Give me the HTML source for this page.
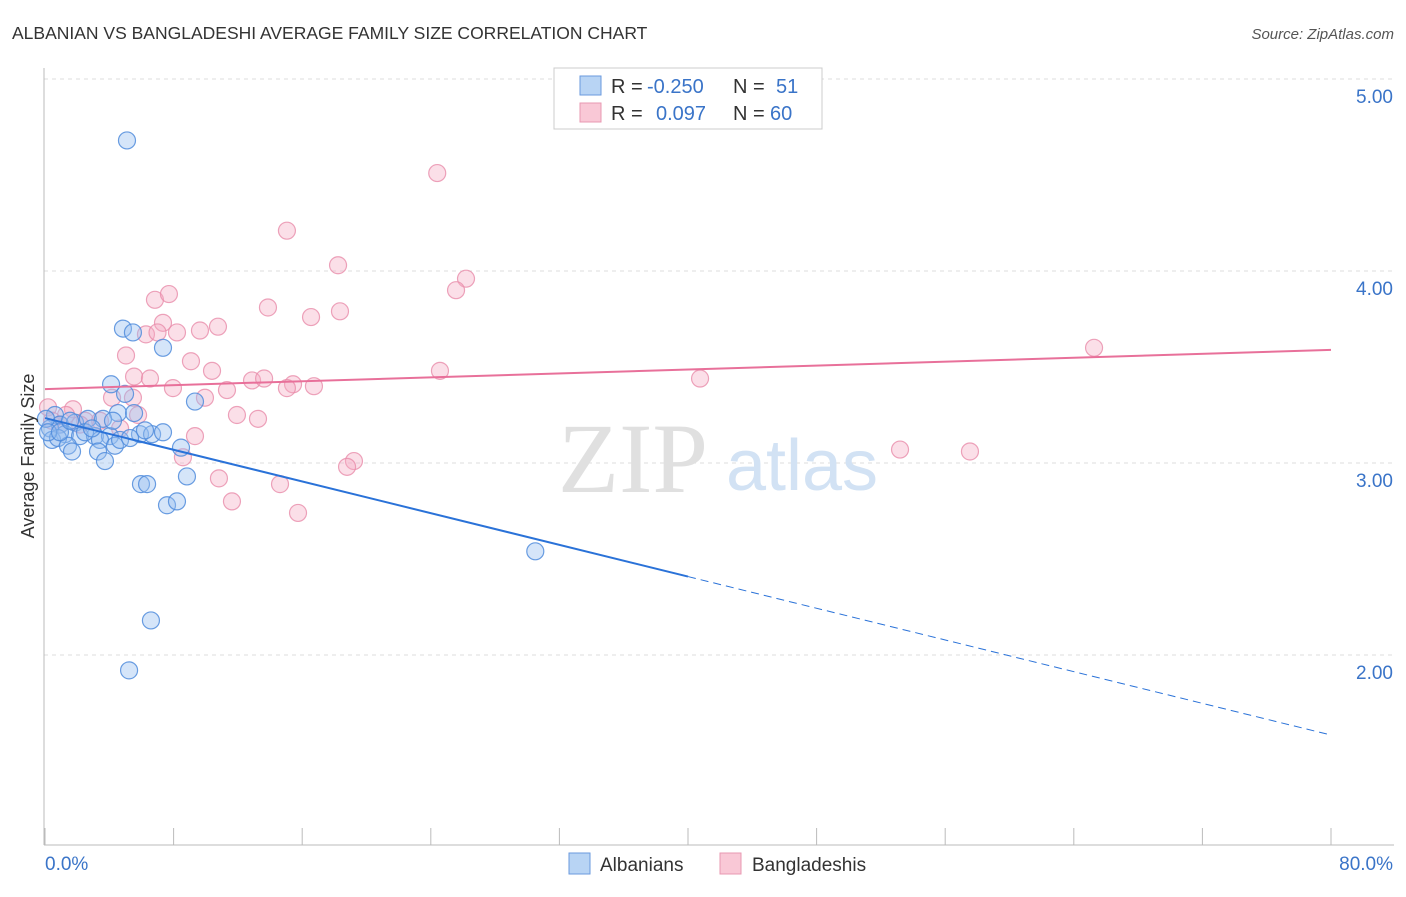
<!DOCTYPE html>
<html><head><meta charset="utf-8"><style>
body{margin:0;background:#fff;font-family:"Liberation Sans",sans-serif;}
svg text{font-family:"Liberation Sans",sans-serif;}
</style></head><body>
<svg width="1406" height="892" xmlns="http://www.w3.org/2000/svg">
<text x="12" y="39" font-size="17.5" fill="#333">ALBANIAN VS BANGLADESHI AVERAGE FAMILY SIZE CORRELATION CHART</text>
<text x="1394" y="39" font-size="15" fill="#555" font-style="italic" text-anchor="end">Source: ZipAtlas.com</text>
<g id="grid"></g>
<g>
<text x="633" y="492" font-size="100" fill="#e0e0e0" text-anchor="middle" style="font-family:'Liberation Serif',serif">ZIP</text>
<text x="802" y="490" font-size="72" fill="#d2e2f4" text-anchor="middle">atlas</text>
</g>
<line x1="44" y1="68" x2="44" y2="845" stroke="#bbb"/>
<line x1="44" y1="845" x2="1394" y2="845" stroke="#bbb"/>
<g id="ticks"></g>
<g id="pts"></g>
<g id="lines"></g>
<text x="28" y="456" font-size="18" fill="#333" text-anchor="middle" transform="rotate(-90 28 456)" dy="6">Average Family Size</text>
<text x="45" y="870" font-size="19" fill="#3a74c8">0.0%</text>
<text x="1393" y="870" font-size="19" fill="#3a74c8" text-anchor="end">80.0%</text>
<g>
<rect x="554" y="68" width="268" height="61" fill="#fff" stroke="#ccc"/>
<rect x="580" y="76" width="21" height="19" fill="#b8d4f4" stroke="#6a9ade"/>
<rect x="580" y="103" width="21" height="19" fill="#f9c8d6" stroke="#e898b2"/>
<text x="611" y="93" font-size="20" fill="#333">R = <tspan fill="#3a74c8" x="647">-0.250</tspan><tspan x="733">N = </tspan><tspan fill="#3a74c8" x="776">51</tspan></text>
<text x="611" y="120" font-size="20" fill="#333">R = <tspan fill="#3a74c8" x="656">0.097</tspan><tspan x="733">N = </tspan><tspan fill="#3a74c8" x="770">60</tspan></text>
</g>
<g>
<rect x="569" y="853" width="21" height="21" fill="#b8d4f4" stroke="#6a9ade"/>
<text x="600" y="871" font-size="19" fill="#333">Albanians</text>
<rect x="720" y="853" width="21" height="21" fill="#f9c8d6" stroke="#e898b2"/>
<text x="752" y="871" font-size="19" fill="#333">Bangladeshis</text>
</g>
</svg>
<script>
const yTicks=[2,3,4,5];
const yTickLabels=["2.00","3.00","4.00","5.00"];
const xTicks=[0,8,16,24,32,40,48,56,64,72,80];
const albX=[5.1,4.85,5.47,7.34,4.11,4.98,9.33,0.62,4.54,5.54,0.93,1.87,2.67,3.61,0.31,1.24,2.18,3.11,4.04,5.91,6.66,7.34,0.44,0.81,1.43,3.42,4.35,3.30,1.68,3.73,8.46,8.83,5.97,6.35,7.59,8.21,30.5,6.59,5.23,0.06,0.19,2.49,0.93,4.67,5.29,2.92,1.56,4.23,6.22];
const albY=[4.68,3.70,3.68,3.60,3.41,3.36,3.32,3.25,3.26,3.26,3.20,3.21,3.23,3.23,3.18,3.15,3.14,3.14,3.14,3.15,3.15,3.16,3.12,3.13,3.09,3.12,3.09,3.06,3.06,3.01,3.08,2.93,2.89,2.89,2.78,2.80,2.54,2.18,1.92,3.23,3.16,3.16,3.16,3.12,3.13,3.18,3.22,3.22,3.17];
const banX=[24.4,15.05,18.23,26.19,25.57,6.84,7.71,13.87,16.55,18.35,7.34,10.76,6.28,7.0,8.21,9.64,65.26,5.04,9.08,5.54,6.53,10.39,24.57,12.88,13.63,15.43,40.75,7.96,11.32,15.05,16.73,9.95,5.47,4.17,0.19,1.74,1.31,5.79,11.94,13.25,3.42,0.44,2.49,4.67,9.33,8.58,53.19,57.54,19.22,18.79,10.82,14.62,11.63,15.74,0.93,2.18];
const banY=[4.51,4.21,4.03,3.96,3.90,3.85,3.88,3.81,3.76,3.79,3.73,3.71,3.67,3.68,3.68,3.69,3.60,3.56,3.53,3.45,3.44,3.48,3.48,3.43,3.44,3.41,3.44,3.39,3.38,3.39,3.40,3.34,3.34,3.34,3.29,3.28,3.25,3.25,3.25,3.23,3.22,3.22,3.22,3.18,3.14,3.03,3.07,3.06,3.01,2.98,2.92,2.89,2.80,2.74,3.20,3.20];
const albTrend=[3.234,1.583];
const banTrend=[3.385,3.589];
const xs=v=>45+v*16.075;
const ys=v=>463-(v-3)*192;
const NS="http://www.w3.org/2000/svg";
function mk(tag,attrs,parent){const e=document.createElementNS(NS,tag);for(const k in attrs)e.setAttribute(k,attrs[k]);parent.appendChild(e);return e;}
const grid=document.getElementById('grid');
yTicks.forEach((t,i)=>{
 const l=mk('line',{x1:44,x2:1394,y1:ys(t),y2:ys(t),stroke:'#ddd','stroke-dasharray':'4,4'},grid);
 
 
 const tx=mk('text',{x:1393,y:ys(t)+24,'font-size':19,fill:'#3a74c8','text-anchor':'end'},grid);
 tx.textContent=yTickLabels[i];
 
 
});
const tk=document.getElementById('ticks');
xTicks.forEach(t=>{
 const l=mk('line',{x1:xs(t),x2:xs(t),y1:828,y2:845,stroke:'#bbb'},tk);
 
 
});
const pts=document.getElementById('pts');
banX.forEach((v,i)=>{
 const c=mk('circle',{cx:xs(v),cy:ys(banY[i]),r:8.5,fill:'rgba(245,170,195,0.38)',stroke:'rgba(232,140,170,0.8)','stroke-width':1.2},pts);
 
 
});
albX.forEach((v,i)=>{
 const c=mk('circle',{cx:xs(v),cy:ys(albY[i]),r:8.5,fill:'rgba(150,190,240,0.4)',stroke:'rgba(80,140,220,0.85)','stroke-width':1.2},pts);
 
 
});
const ln=document.getElementById('lines');
const bMid=albTrend[0]+(albTrend[1]-albTrend[0])*0.5;
let l1=mk('line',{x1:xs(0),y1:ys(albTrend[0]),x2:xs(40),y2:ys(bMid),stroke:'#2a72d8','stroke-width':2},ln);


let l2=mk('line',{x1:xs(40),y1:ys(bMid),x2:xs(80),y2:ys(albTrend[1]),stroke:'#2a72d8','stroke-width':1,'stroke-dasharray':'8,5'},ln);


let l3=mk('line',{x1:xs(0),y1:ys(banTrend[0]),x2:xs(80),y2:ys(banTrend[1]),stroke:'#e8709a','stroke-width':2},ln);


</script>
</body></html>
